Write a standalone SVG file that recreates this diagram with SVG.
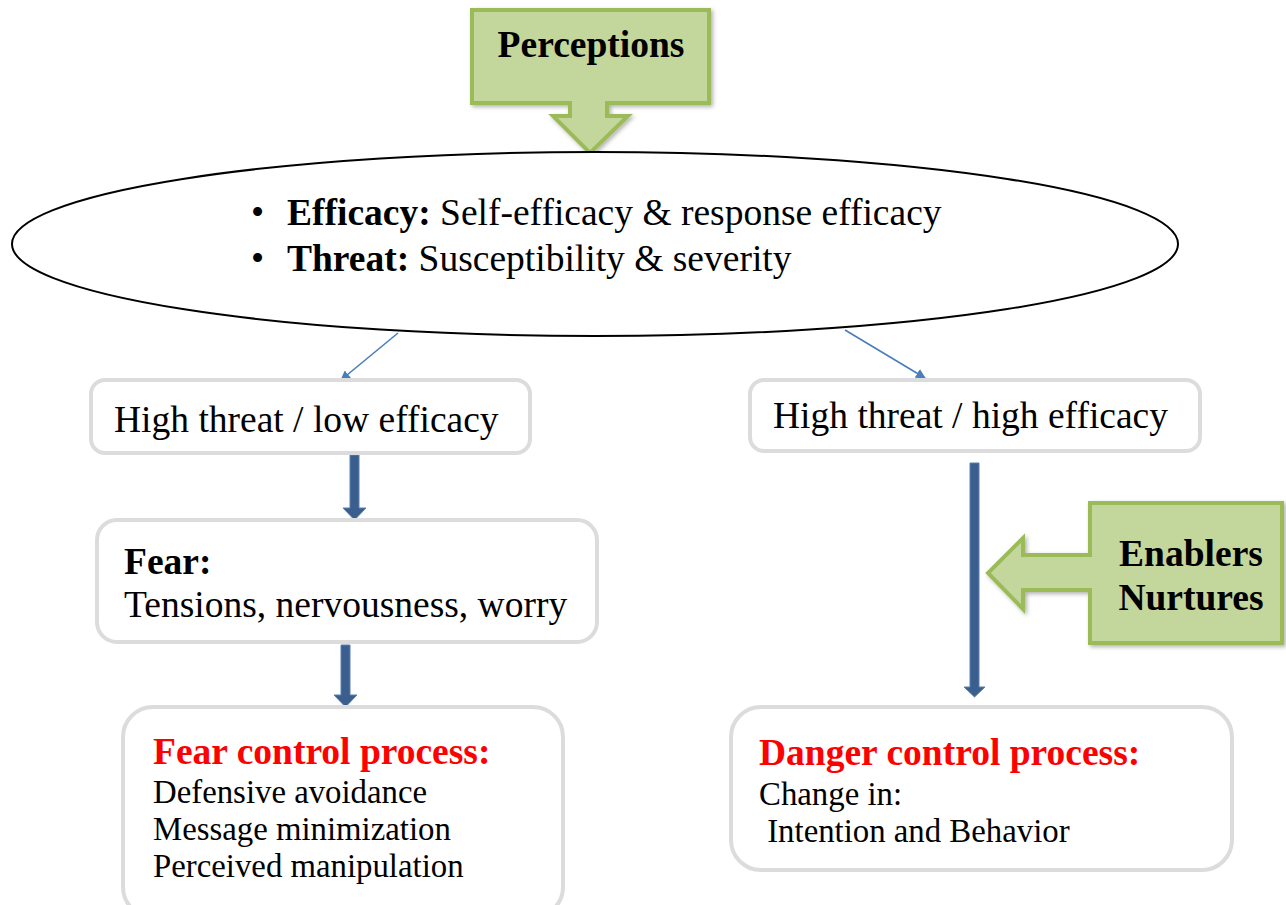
<svg xmlns="http://www.w3.org/2000/svg" width="1286" height="905" viewBox="0 0 1286 905">
<style>
.t{font-family:"Liberation Serif","Times New Roman",serif;fill:#000}
.b{font-weight:bold}
.red{fill:#ff0000;font-weight:bold}
.box{fill:#fff;stroke:#dcdcdc;stroke-width:4}
.green{fill:#c3d69b;stroke:#9bbb59;stroke-width:4;stroke-linejoin:miter}
.thin{stroke:#4a7ebb;stroke-width:1.6;fill:none}
.thick{fill:#3a5f8f;stroke:#5a7fb0;stroke-width:1}
</style>
<defs>
<marker id="ah" markerWidth="10" markerHeight="10" refX="9" refY="5" orient="auto" markerUnits="userSpaceOnUse" viewBox="0 0 10 10">
<path d="M0,0 L10,5 L0,10 z" fill="#4a7ebb"/>
</marker>
<filter id="sh" x="-10%" y="-10%" width="130%" height="130%">
<feDropShadow dx="2" dy="2" stdDeviation="2" flood-color="#000" flood-opacity="0.3"/>
</filter>
</defs>
<rect width="1286" height="905" fill="#fff"/>

<g id="perceptions">
<path class="green" filter="url(#sh)" d="M472,10 H709 V103 H607 V116 H628 L590,153 L553,116 H570 V103 H472 Z"/>
<text class="t b" x="591" y="57" font-size="37.5" text-anchor="middle">Perceptions</text>
</g>

<g id="ellipse">
<ellipse cx="595" cy="244" rx="583" ry="92" fill="#fff" stroke="#000" stroke-width="2"/>
<text class="t" x="251" y="225" font-size="37.5">•</text>
<text class="t" x="287" y="225" font-size="37.5"><tspan class="b">Efficacy:</tspan> Self-efficacy &amp; response efficacy</text>
<text class="t" x="251" y="271" font-size="37.5">•</text>
<text class="t" x="287" y="271" font-size="37.5"><tspan class="b">Threat:</tspan> Susceptibility &amp; severity</text>
</g>

<g id="connectors">
<line class="thin" x1="398" y1="333" x2="341" y2="380" marker-end="url(#ah)"/>
<line class="thin" x1="845" y1="330" x2="925" y2="378" marker-end="url(#ah)"/>
<path class="thick" d="M350,455 H359 V508 H366 L354.5,520 L343,508 H350 Z"/>
<path class="thick" d="M341,645 H350 V695 H357 L345.5,707 L334,695 H341 Z"/>
<path class="thick" d="M970,463 H979 V687 H985 L974.5,697 L964,687 H970 Z"/>
</g>

<g id="low-efficacy">
<rect class="box" x="91" y="380" width="439" height="73" rx="14"/>
<text class="t" x="114" y="432" font-size="37.5">High threat / low efficacy</text>
</g>

<g id="high-efficacy">
<rect class="box" x="750" y="380" width="450" height="71" rx="14"/>
<text class="t" x="773" y="428" font-size="37.5">High threat / high efficacy</text>
</g>

<g id="fear">
<rect class="box" x="97" y="520" width="500" height="122" rx="20"/>
<text class="t b" x="124" y="574" font-size="37.5">Fear:</text>
<text class="t" x="124" y="617" font-size="37.5">Tensions, nervousness, worry</text>
</g>

<g id="fear-control">
<rect class="box" x="123" y="707" width="440" height="210" rx="30"/>
<text class="t red" x="153" y="764" font-size="37.5">Fear control process:</text>
<text class="t" x="153" y="803" font-size="32.8">Defensive avoidance</text>
<text class="t" x="153" y="840" font-size="32.8">Message minimization</text>
<text class="t" x="153" y="877" font-size="32.8">Perceived manipulation</text>
</g>

<g id="danger-control">
<rect class="box" x="731" y="707" width="501" height="163" rx="30"/>
<text class="t red" x="759" y="765" font-size="37.5">Danger control process:</text>
<text class="t" x="759" y="805" font-size="32.8">Change in:</text>
<text class="t" x="759" y="842" font-size="32.8" xml:space="preserve"> Intention and Behavior</text>
</g>

<g id="enablers">
<path class="green" filter="url(#sh)" d="M1090,503 H1282 V643 H1090 V590 H1023 V609 L988,573 L1023,538 V555 H1090 Z"/>
<text class="t b" x="1191" y="566" font-size="37.5" text-anchor="middle">Enablers</text>
<text class="t b" x="1191" y="610" font-size="37.5" text-anchor="middle">Nurtures</text>
</g>
</svg>
